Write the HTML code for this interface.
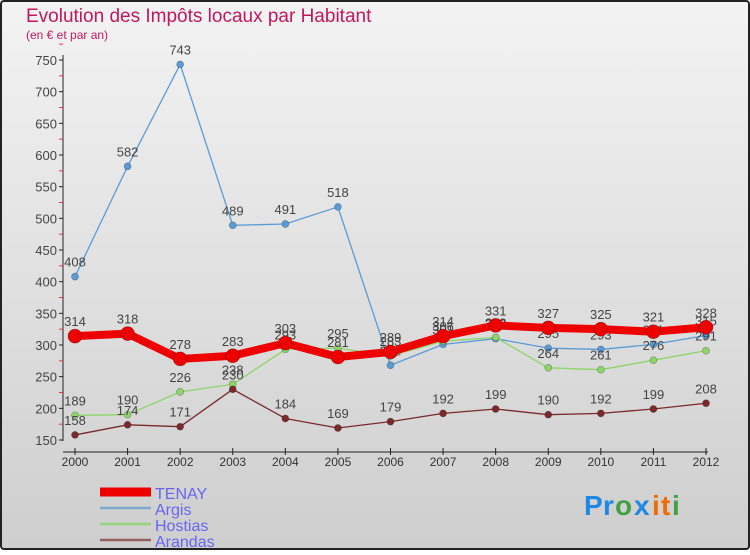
<!DOCTYPE html>
<html><head><meta charset="utf-8"><style>
body{margin:0;width:750px;height:550px;overflow:hidden;font-family:"Liberation Sans",sans-serif}
</style></head><body>
<svg id="chart" width="750" height="550" xmlns="http://www.w3.org/2000/svg">
<defs><linearGradient id="bg" x1="0" y1="0" x2="0" y2="1"><stop offset="0" stop-color="#f3f3f3"/><stop offset="1" stop-color="#cecece"/></linearGradient></defs>
<rect x="1" y="1" width="748" height="548" rx="3" fill="url(#bg)" stroke="#222" stroke-width="2"/>
<text x="26" y="22" font-size="19" fill="#c2185b">Evolution des Impôts locaux par Habitant</text>
<text x="26" y="39" font-size="12" fill="#c2185b">(en € et par an)</text>
<g id="axes"></g><g id="series"></g><g id="legend"></g>
<g font-size="28" font-weight="bold">
<text x="584" y="515" fill="#1e88e5">P</text><text x="603" y="515" fill="#1e88e5">r</text><text x="615" y="515" fill="#43a047">o</text><text x="634" y="515" fill="#1e88e5">x</text><text x="652" y="515" fill="#ef6c00">i</text><text x="661" y="515" fill="#ef6c00">t</text><text x="672" y="515" fill="#43a047">i</text></g>
</svg>
<script>
const years=[2000,2001,2002,2003,2004,2005,2006,2007,2008,2009,2010,2011,2012];
const yTicks=[150,200,250,300,350,400,450,500,550,600,650,700,750];
const tenay=[314,318,278,283,303,281,289,314,331,327,325,321,328];
const argis=[408,582,743,489,491,518,268,301,310,295,293,301,315];
const hostias=[189,190,226,238,293,295,283,306,312,264,261,276,291];
const arandas=[158,174,171,230,184,169,179,192,199,190,192,199,208];
const NS="http://www.w3.org/2000/svg";
const X=i=>75+i*(706-75)/12;
const Y=v=>440-(v-150)*380/600;
function mk(tag,attrs,parent,text){const e=document.createElementNS(NS,tag);for(const k in attrs)e.setAttribute(k,attrs[k]);if(text!==undefined)e.textContent=text;parent.appendChild(e);return e;}
const ax=document.getElementById('axes');
let a=mk('line',{x1:63,y1:55,x2:63,y2:441,stroke:'#222'},ax);

a=mk('line',{x1:63,y1:452,x2:708,y2:452,stroke:'#222'},ax);

yTicks.forEach(v=>{mk('line',{x1:59,y1:Y(v),x2:63,y2:Y(v),stroke:'#222'},ax);
mk('line',{x1:59,y1:Y(v+25),x2:63,y2:Y(v+25),stroke:'#e53935'},ax);
const t=mk('text',{x:57,y:Y(v)+5,'text-anchor':'end','font-size':13,fill:'#444'},ax,v);
});
years.forEach((y,i)=>{mk('line',{x1:X(i),y1:448,x2:X(i),y2:455,stroke:'#222'},ax);
const t=mk('text',{x:X(i),y:466,'text-anchor':'middle','font-size':12,fill:'#333'},ax,y);
});
const sg=document.getElementById('series');
function draw(vals,color,w,r,name){const g=mk('g',{},sg);

mk('polyline',{points:vals.map((v,i)=>X(i)+','+Y(v)).join(' '),fill:'none',stroke:color,'stroke-width':w,'stroke-linejoin':'round'},g);
vals.forEach((v,i)=>{const c=mk('circle',{cx:X(i),cy:Y(v),r:r,fill:color,stroke:'rgba(0,0,0,0.3)','stroke-width':0.7},g);

const t=mk('text',{x:X(i),y:Y(v)-10,'text-anchor':'middle','font-size':13,fill:'#444'},g,v);
});}
draw(argis,'#5b9bd5',1.3,3.5,'argis');
draw(hostias,'#8fd46a',1.3,3.5,'hostias');
draw(arandas,'#7a2a2a',1.3,3.5,'arandas');
draw(tenay,'#ee0000',8,7,'tenay');
const lg=document.getElementById('legend');
[['TENAY','#ee0000',9],['Argis','#7fa9cb',2.5],['Hostias','#94d47a',2.5],['Arandas','#946060',2.5]].forEach((d,i)=>{
const y=492+i*16;const g=mk('g',{},lg);

mk('line',{x1:100,y1:y,x2:151,y2:y,stroke:d[1],'stroke-width':d[2]},g);
mk('text',{x:155,y:y+7,'font-size':16,fill:'#6666ee'},g,d[0]);});
</script>
</body></html>
